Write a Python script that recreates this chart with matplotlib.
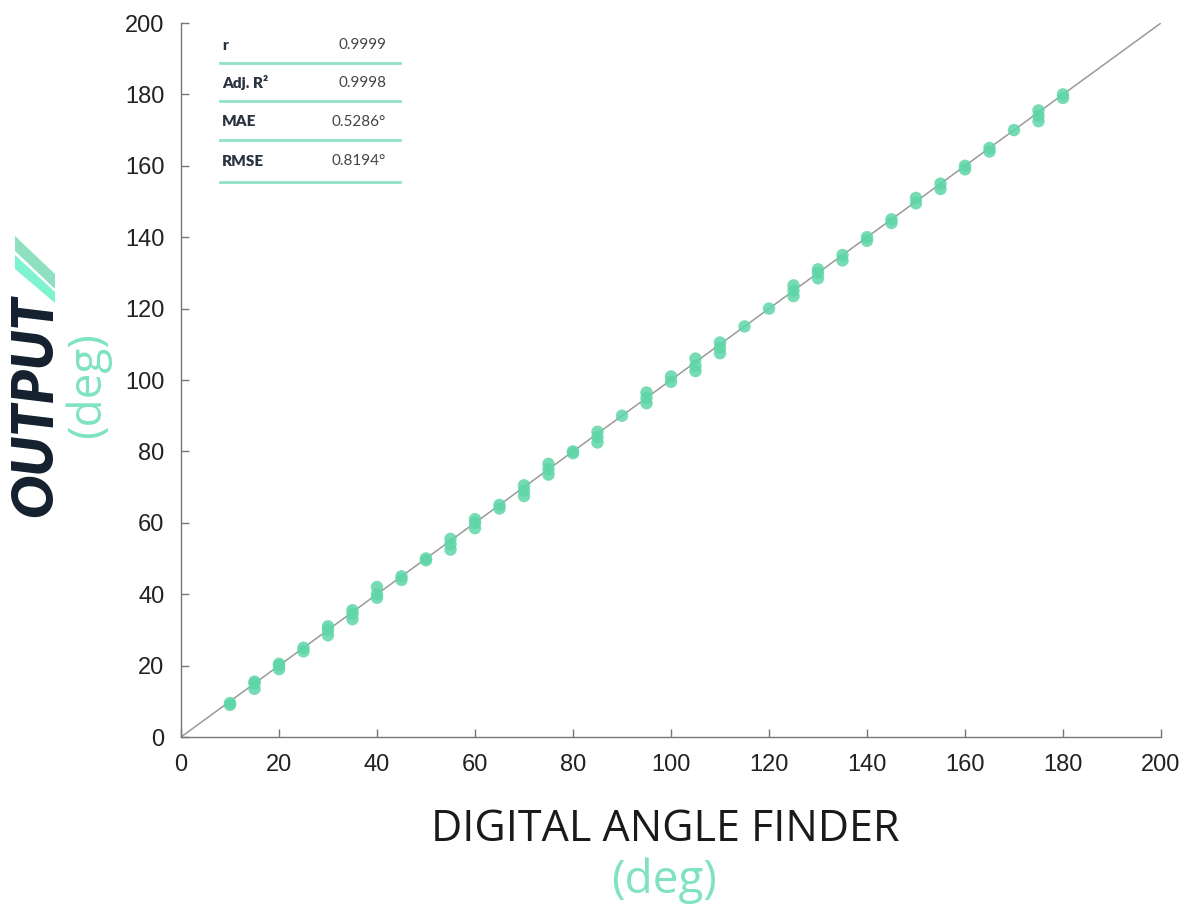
import matplotlib
matplotlib.use("Agg")
import matplotlib.pyplot as plt
from matplotlib.lines import Line2D
from matplotlib.patches import Polygon

# readings: digital angle finder (x) vs OUTPUT (y), a few trials per angle
angles = [10, 15, 20, 25, 30, 35, 40, 45, 50, 55, 60, 65, 70, 75, 80, 85, 90,
          95, 100, 105, 110, 115, 120, 125, 130, 135, 140, 145, 150, 155, 160,
          165, 170, 175, 180]
trials = [
    [9, 9.5],
    [13.5, 15, 15.5],
    [19, 20, 20.5],
    [24, 25],
    [28.5, 30, 31],
    [33, 34.5, 35.5],
    [39, 40, 42],
    [44, 45],
    [49.5, 50],
    [52.5, 54, 55.5],
    [58.5, 60, 61],
    [64, 65],
    [67.5, 69, 70.5],
    [73.5, 75, 76.5],
    [79.5, 80],
    [82.5, 84, 85.5],
    [90],
    [93.5, 95, 96.5],
    [99.5, 101],
    [102.5, 104, 106],
    [107.5, 109, 110.5],
    [115],
    [120],
    [123.5, 125, 126.5],
    [128.5, 130, 131],
    [133.5, 135],
    [139, 140],
    [144, 145],
    [149.5, 151],
    [153.5, 155],
    [159, 160],
    [164, 165],
    [170],
    [172.5, 174, 175.5],
    [179, 180],
]

stat_names = ["r", "Adj. R²", "MAE", "RMSE"]
stat_values = ["0.9999", "0.9998", "0.5286°", "0.8194°"]

mint = "#5fd6a8"
light_mint = "#7fe3c1"
navy = "#14202e"

W, H = 1193, 914
fig = plt.figure(figsize=(W / 100, H / 100), dpi=100)
ax = fig.add_axes([181 / W, 1 - 737 / H, (1161 - 181) / W, (737 - 23) / H])

xs = [a for a, t in zip(angles, trials) for _ in t]
ys = [v for t in trials for v in t]

ax.plot([0, 200], [0, 200], color="#9a9a9a", lw=1.1, zorder=1)
ax.scatter(xs, ys, s=80, color=mint, alpha=0.85, edgecolors="none", zorder=2)

ax.set_xlim(0, 200)
ax.set_ylim(0, 200)
ax.set_xticks(range(0, 201, 20))
ax.set_yticks(range(0, 201, 20))
for s in ["top", "right"]:
    ax.spines[s].set_visible(False)
for s in ["left", "bottom"]:
    ax.spines[s].set_color("#777777")
    ax.spines[s].set_linewidth(1.0)
ax.tick_params(direction="in", length=6, width=1, color="#777777",
               labelsize=17, labelcolor="#222222")
ax.tick_params(axis="x", pad=12)
ax.tick_params(axis="y", pad=12)
for lab in ax.get_xticklabels() + ax.get_yticklabels():
    lab.set_fontfamily("Liberation Sans")

# axis titles
fig.text(665 / W, 1 - 830 / H, "DIGITAL ANGLE FINDER", ha="center", va="center",
         fontsize=31, fontfamily="Open Sans", color="#1a1a1a")
fig.text(664 / W, 1 - 881 / H, "(deg)", ha="center", va="center",
         fontsize=33, fontfamily="Open Sans", color=light_mint)
fig.text(88 / W, 1 - 385 / H, "(deg)", ha="center", va="center", rotation=90,
         fontsize=33, fontfamily="Open Sans", color=light_mint)

# OUTPUT logo
fig.text(35 / W, 1 - 406 / H, "OUTPUT", ha="center", va="center", rotation=90,
         fontsize=41, fontfamily="Lato", fontweight="heavy", style="italic",
         color=navy)
strips = [
    ([(15, 236), (15, 251), (55, 289), (55, 274)], "#8fe0c0"),
    ([(15, 255), (15, 269), (55, 303), (55, 292)], "#7ff3cf"),
]
for pts, col in strips:
    fig.add_artist(Polygon([(px / W, 1 - py / H) for px, py in pts],
                           closed=True, facecolor=col, edgecolor="none",
                           transform=fig.transFigure))

# stats table
text_y = [45, 83, 122, 161]
line_y = [63, 101, 140, 182]
for name, val, ty, ly in zip(stat_names, stat_values, text_y, line_y):
    fig.text(222 / W, 1 - ty / H, name, ha="left", va="center", fontsize=11,
             fontfamily="Lato", fontweight="heavy", color="#2a3340")
    fig.text(386 / W, 1 - ty / H, val, ha="right", va="center", fontsize=11,
             fontfamily="Lato", color="#444444")
    fig.add_artist(Line2D([220 / W, 400 / W], [1 - ly / H, 1 - ly / H],
                          color="#8fe3c3", lw=2))

fig.savefig("out.png", dpi=100)
